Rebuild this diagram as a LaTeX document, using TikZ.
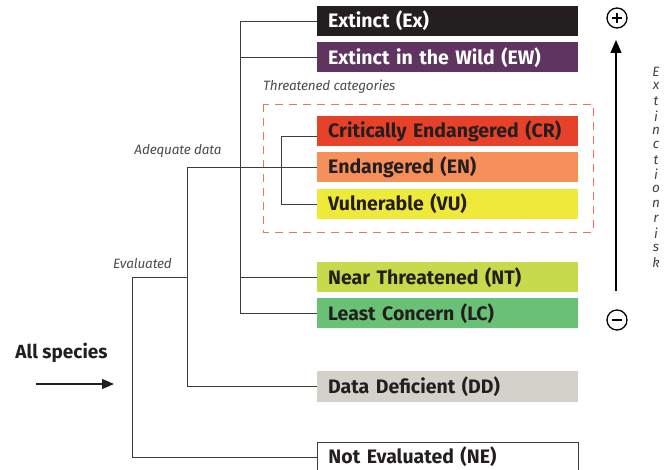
\documentclass[tikz,border=0pt]{standalone}
\usepackage{fontspec}
\setmainfont{Fira Sans}
\usepackage{tikz}
\usetikzlibrary{arrows.meta, positioning, calc}
\definecolor{redlistblack}{HTML}{231F20}
\definecolor{redlistpurple}{HTML}{5F3461}
\definecolor{redlistcr}{HTML}{E8412A}
\definecolor{redlisten}{HTML}{F68F5A}
\definecolor{redlistvu}{HTML}{EFEA3A}
\definecolor{redlistnt}{HTML}{C7DA4C}
\definecolor{redlistlc}{HTML}{68C174}
\definecolor{redlistdd}{HTML}{D2D2CA}
\definecolor{dashsalmon}{HTML}{F07262}
\definecolor{treegray}{HTML}{3C3C3C}
\tikzset{
  catbox/.style={anchor=west, minimum height=30pt, text width=239pt, inner xsep=11pt,
    align=left, font=\fontsize{19.5}{19.5}\selectfont\bfseries, text=redlistblack},
  tree/.style={treegray, line width=0.9pt},
  branchlabel/.style={font=\fontsize{13.5}{13.5}\selectfont\itshape\addfontfeatures{LetterSpace=-1}, text=black!70},
  risk/.style={font=\fontsize{13.5}{13.5}\selectfont\itshape, text=black!75, inner sep=0pt},
  signcircle/.style={circle, draw=black, line width=1.3pt, minimum size=20pt, inner sep=0pt},
  signbar/.style={black, line width=2.4pt}
}

\begin{document}
\begin{tikzpicture}[x=1pt, y=-1pt]
  \useasboundingbox (0,0) rectangle (667,470);

  % Category boxes
  \node[catbox, fill=redlistblack, text=white] (ex) at (317,21) {Extinct (Ex)};
  \node[catbox, fill=redlistpurple, text=white] (ew) at (317,57.5) {Extinct in the Wild (EW)};
  \node[catbox, fill=redlistcr] (cr) at (317,131) {Critically Endangered (CR)};
  \node[catbox, fill=redlisten] (en) at (317,167.5) {Endangered (EN)};
  \node[catbox, fill=redlistvu] (vu) at (317,204) {Vulnerable (VU)};
  \node[catbox, fill=redlistnt] (nt) at (317,277.5) {Near Threatened (NT)};
  \node[catbox, fill=redlistlc] (lc) at (317,313.5) {Least Concern (LC)};
  \node[catbox, fill=redlistdd] (dd) at (317,386.5) {Data Deficient (DD)};
  \node[catbox, draw=treegray, line width=0.9pt, fill=white] (ne) at (317,457) {Not Evaluated (NE)};

  % Threatened group
  \draw[dashsalmon, line width=0.9pt, dash pattern=on 8pt off 6pt] (263,104) rectangle (593,232);
  \node[branchlabel, anchor=west, inner sep=0pt] (threatened) at (263,87) {Threatened categories};

  % Tree junctions
  \coordinate (kT) at (281,0);
  \coordinate (kA) at (240,0);
  \coordinate (kD) at (187,0);
  \coordinate (kE) at (132,0);

  \draw[tree] ([yshift=-5pt]cr.west) -| (kT |- vu.west) -- (vu.west);
  \draw[tree] (ex.west) -| (kA |- lc.west) -- (lc.west);
  \draw[tree] (ew.west) -- (ew.west -| kA);
  \draw[tree] (nt.west) -- (nt.west -| kA);
  \draw[tree] (en.west) -- (kD |- en.west) -- (kD |- dd.west) -- (dd.west);
  \draw[tree] (kD |- nt.west) -- (kE |- nt.west) -- (kE |- ne.west) -- (ne.west);

  % Branch labels
  \node[branchlabel] (adequate) at (178,151) {Adequate data};
  \node[branchlabel] (evaluated) at (142.5,264) {Evaluated};

  % Entry
  \node[font=\fontsize{19}{19}\selectfont\bfseries, text=redlistblack] (all) at (61.5,353) {All species};
  \coordinate (allstart) at (36,384);
  \coordinate (allend) at (114,384);
  \draw[redlistblack, line width=1.3pt, -{Triangle[length=12pt, width=10pt]}] (allstart) -- (allend);

  % Extinction risk scale
  \node[signcircle] (plus) at (617,18) {};
  \draw[signbar] ([xshift=-5pt]plus.center) -- ([xshift=5pt]plus.center);
  \draw[signbar] ([yshift=-5pt]plus.center) -- ([yshift=5pt]plus.center);
  \node[signcircle] (minus) at (617,320) {};
  \draw[signbar] ([xshift=-5pt]minus.center) -- ([xshift=5pt]minus.center);
  \coordinate (riskbottom) at (616,291);
  \coordinate (risktop) at (616,40);
  \draw[black, line width=1.3pt, -{Triangle[length=13pt, width=11pt]}] (riskbottom) -- (risktop);
  \foreach \c [count=\i] in {E,x,t,i,n,c,t,i,o,n,r,i,s,k}
    \node[risk] (risk\i) at (656, 57+14.7*\i) {\c};
\end{tikzpicture}
\end{document}
